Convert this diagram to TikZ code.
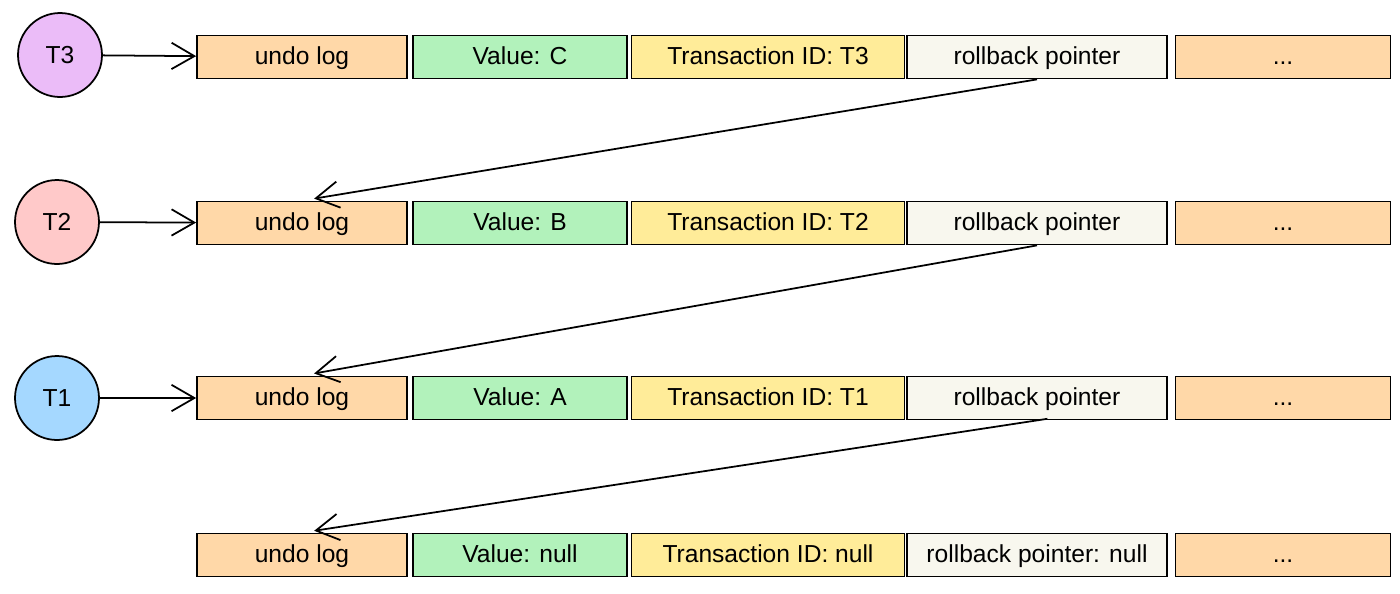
\documentclass[tikz,border=0pt]{standalone}
\usepackage{fontspec}
\setmainfont{Liberation Sans}
\usetikzlibrary{arrows.meta, positioning}

\definecolor{undofill}{HTML}{FFD8A8}
\definecolor{valfill}{HTML}{B2F2BB}
\definecolor{tidfill}{HTML}{FFEC99}
\definecolor{rbfill}{HTML}{F8F7EE}
\definecolor{tthree}{HTML}{EBBCF8}
\definecolor{ttwo}{HTML}{FFC9C9}
\definecolor{tone}{HTML}{A5D8FF}

\tikzset{
  box/.style={draw, line width=1pt, minimum height=0.86cm, inner sep=0pt,
    text height=1.9ex, text depth=0.3ex, font=\fontsize{14}{16}\selectfont},
  undo/.style={box, fill=undofill, minimum width=4.2cm},
  val/.style={box, fill=valfill, minimum width=4.28cm},
  tid/.style={box, fill=tidfill, minimum width=5.46cm},
  rb/.style={box, fill=rbfill, minimum width=5.2cm},
  more/.style={box, fill=undofill, minimum width=4.3cm},
  txn/.style={draw, circle, line width=1pt, minimum size=1.68cm, font=\fontsize{14}{16}\selectfont},
  link/.style={-{Straight Barb[length=13pt, width=15pt]}, line width=1pt}
}

\begin{document}
\begin{tikzpicture}[x=0.02cm, y=-0.02cm]
  \useasboundingbox (0,0) rectangle (1400,593);

  % transactions
  \node[txn, fill=tthree] (t3) at (60,55)  {T3};
  \node[txn, fill=ttwo]   (t2) at (57,222) {T2};
  \node[txn, fill=tone]   (t1) at (57,398) {T1};

  % row of T3
  \node[undo] (undo3) at (302,57)  {undo log};
  \node[val]  (val3)  at (520,57)  {Value: C};
  \node[tid]  (tid3)  at (768,57)  {Transaction ID: T3};
  \node[rb]   (rb3)   at (1037,57) {rollback pointer};
  \node[more] (more3) at (1283,57) {...};

  % row of T2
  \node[undo] (undo2) at (302,223)  {undo log};
  \node[val]  (val2)  at (520,223)  {Value: B};
  \node[tid]  (tid2)  at (768,223)  {Transaction ID: T2};
  \node[rb]   (rb2)   at (1037,223) {rollback pointer};
  \node[more] (more2) at (1283,223) {...};

  % row of T1
  \node[undo] (undo1) at (302,398)  {undo log};
  \node[val]  (val1)  at (520,398)  {Value: A};
  \node[tid]  (tid1)  at (768,398)  {Transaction ID: T1};
  \node[rb]   (rb1)   at (1037,398) {rollback pointer};
  \node[more] (more1) at (1283,398) {...};

  % last row
  \node[undo] (undo0) at (302,555)  {undo log};
  \node[val]  (val0)  at (520,555)  {Value: null};
  \node[tid]  (tid0)  at (768,555)  {Transaction ID: null};
  \node[rb]   (rb0)   at (1037,555) {rollback pointer: null};
  \node[more] (more0) at (1283,555) {...};

  \draw[link] (t3) -- (undo3);
  \draw[link] (t2) -- (undo2);
  \draw[link] (t1) -- (undo1);

  \draw[link, shorten >=7pt] (rb3.south) -- (undo2.north);
  \draw[link, shorten >=7pt] (rb2.south) -- (undo1.north);
  \draw[link, shorten <=-6pt, shorten >=7pt] (rb1.south) -- (undo0.north);
\end{tikzpicture}
\end{document}
